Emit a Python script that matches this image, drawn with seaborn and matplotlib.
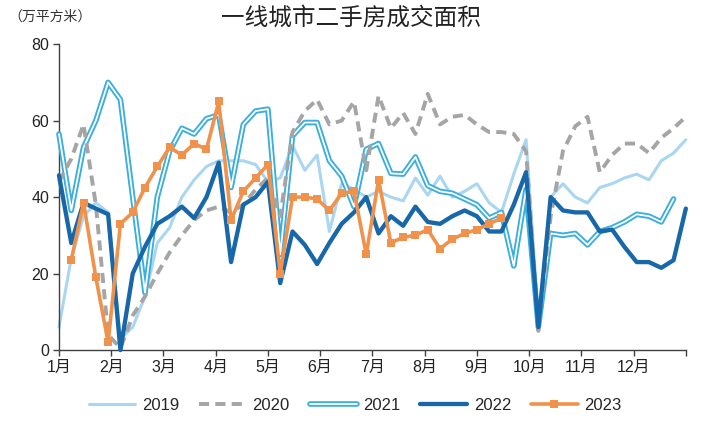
import numpy as np
import pandas as pd
import seaborn as sns
import matplotlib.pyplot as plt
import matplotlib.patheffects as pe

# 周序号（1月第一周 = 0）
weeks_2019 = np.arange(0, 52)
weeks_2020 = np.arange(0, 52)
weeks_2021 = np.arange(0, 51)
weeks_2022 = np.arange(0, 52)
weeks_2023 = np.arange(1, 37)

# 一线城市二手房成交面积（万平方米）
v2019 = [6, 24, 35, 38.5, 36, 3, 6, 14, 28, 32, 40, 44.5, 48, 49.5, 49.5, 49.5, 48.5, 44, 45, 53.5,
         47, 51, 31, 43.5, 42, 40, 41.5, 40, 39, 45, 40.5, 45.5, 40, 41.5, 43.5, 38.5, 36, 46, 55, 8,
         40, 43.5, 40, 38.5, 42.5, 43.5, 45, 46, 44.5, 49.5, 51.5, 55]
v2020 = [44, 50, 59, 38, 4, 0.5, 9, 14, 20, 25.5, 30, 34, 36.5, 37.5, 36, 38, 42, 45, 35, 57,
         62.5, 65.5, 59, 60, 65, 47, 66.5, 58, 62, 56.5, 67, 59, 61, 61.5, 59, 57, 57, 56.5, 52, 5,
         35, 52, 58.5, 61, 46.5, 51, 54, 54, 51.5, 55.5, 58, 61]
v2021 = [56.5, 36.5, 53, 60, 70, 65.5, 40, 15, 40, 52, 58, 56.5, 60.5, 61.5, 42.5, 59, 62.5, 63, 25, 56,
         59.5, 59.5, 49.5, 45.5, 37.5, 52.5, 54, 46.2, 46, 50.5, 43, 41.5, 41, 39.5, 38, 34.5, 36, 22, 42, 6,
         30.5, 30, 30.5, 27.5, 31, 32, 33.5, 35.5, 35, 33.5, 39.5]
v2022 = [45.7, 28, 38.5, 37, 35.5, 0, 20, 27, 33, 35, 37.5, 34.5, 40, 49, 23, 38, 40, 44, 17.5, 31,
         27.5, 22.5, 28, 33, 36, 40, 30.5, 35, 32.5, 37.5, 33.5, 33, 35, 36.5, 35, 31, 31, 38, 46.5, 6,
         40, 36.5, 36, 36, 31, 31.5, 27, 23, 23, 21.5, 23.5, 37]
v2023 = [23.5, 38.5, 19, 2, 33, 36, 42.5, 48, 53, 51, 54, 52.5, 65, 34, 41.5, 45, 48.5, 20, 40, 40,
         39.5, 36.5, 41, 41.5, 25, 44.5, 28, 29.5, 30, 31.5, 26.5, 29, 30.5, 31.5, 33, 34.5]

meses = ['1月', '2月', '3月', '4月', '5月', '6月', '7月', '8月', '9月', '10月', '11月', '12月', '']

sns.set_theme(style='ticks')
plt.rcParams['font.family'] = ['Liberation Sans', 'Noto Sans CJK SC']
plt.rcParams['axes.unicode_minus'] = False

fig = plt.figure(figsize=(7.02, 4.37), dpi=100)
ax = fig.add_axes([0.084, 0.199, 0.893, 0.70])

sns.lineplot(x=weeks_2019, y=v2019, ax=ax, color='#A9D6F0', lw=2.2, label='2019',
             estimator=None, sort=False, zorder=2, clip_on=False)
sns.lineplot(x=weeks_2021, y=v2021, ax=ax, color='white', lw=1.3, label='2021',
             estimator=None, sort=False, zorder=3, clip_on=False,
             path_effects=[pe.Stroke(linewidth=4.0, foreground='#3AAEDC'), pe.Normal()])
sns.lineplot(x=weeks_2020, y=v2020, ax=ax, color='#A5A5A5', lw=2.8, label='2020',
             linestyle=(0, (2.6, 1.6)), estimator=None, sort=False, zorder=4, clip_on=False)
sns.lineplot(x=weeks_2022, y=v2022, ax=ax, color='#1767A9', lw=3.1, label='2022',
             estimator=None, sort=False, zorder=5, clip_on=False)
sns.lineplot(x=weeks_2023, y=v2023, ax=ax, color='#F0924C', lw=2.6, label='2023',
             marker='s', markersize=5.2, markeredgewidth=0,
             estimator=None, sort=False, zorder=6, clip_on=False)

ax.set_xlim(0, 51)
ax.set_ylim(0, 80)
ax.set_xticks([51 * m / 12 for m in range(13)])
ax.set_xticklabels(meses)
ax.set_yticks([0, 20, 40, 60, 80])
ax.set_xlabel('')
ax.set_ylabel('')
sns.despine(ax=ax)
for s in ['left', 'bottom']:
    ax.spines[s].set_color('#404040')
    ax.spines[s].set_linewidth(1.0)
ax.tick_params(axis='both', direction='out', length=4, width=1, colors='#404040',
               labelsize=11.5, labelcolor='#222222', pad=3)

# leyenda abajo en orden
handles, labels = ax.get_legend_handles_labels()
if ax.get_legend() is not None:
    ax.get_legend().remove()
orden = ['2019', '2020', '2021', '2022', '2023']
hs = [handles[labels.index(o)] for o in orden]
fig.legend(hs, orden, loc='center', bbox_to_anchor=(0.506, 0.073), ncol=5, frameon=False,
           fontsize=12, handlelength=2.8, handletextpad=0.4, columnspacing=1.2, numpoints=1)

fig.text(0.5, 0.958, '一线城市二手房成交面积', ha='center', va='center', fontsize=17,
         color='#222222', family=['Noto Sans CJK SC'])
fig.text(0.012, 0.962, '（万平方米）', ha='left', va='center', fontsize=10,
         color='#333333', family=['Noto Sans CJK SC'])

fig.savefig('out.png', dpi=100)
